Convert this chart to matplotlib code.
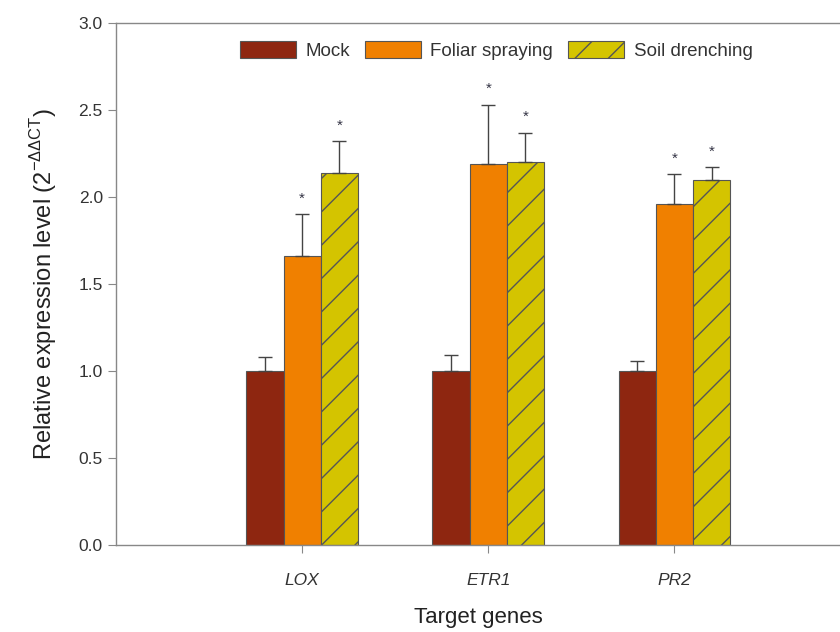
import matplotlib
matplotlib.use("Agg")
import matplotlib.pyplot as plt
import numpy as np

plt.rcParams['font.family'] = ['Liberation Sans', 'DejaVu Sans']
plt.rcParams['hatch.linewidth'] = 1.0
plt.rcParams['hatch.color'] = '#33331a'
plt.rcParams['mathtext.fontset'] = 'custom'
plt.rcParams['mathtext.rm'] = 'Liberation Sans'

genes = ["LOX", "ETR1", "PR2"]
series = ["Mock", "Foliar spraying", "Soil drenching"]
mock = [1.00, 1.00, 1.00]
mock_err = [0.08, 0.09, 0.06]
foliar = [1.66, 2.19, 1.96]
foliar_err = [0.24, 0.34, 0.17]
soil = [2.14, 2.20, 2.10]
soil_err = [0.18, 0.17, 0.07]
foliar_sig = ["*", "*", "*"]
soil_sig = ["*", "*", "*"]

colors = ["#8e2610", "#f08000", "#d4c400"]
hatches = [None, None, "/"]

fig = plt.figure(figsize=(8.4, 6.32), dpi=100)
ax = fig.add_axes([116/840, 87/632, 1 - 116/840, (545-23)/632])

x = np.arange(1, len(genes) + 1)
w = 0.2
data = [(mock, mock_err, None), (foliar, foliar_err, foliar_sig), (soil, soil_err, soil_sig)]
for i, (vals, errs, sig) in enumerate(data):
    pos = x + (i - 1) * w
    ax.bar(pos, vals, w, color=colors[i], edgecolor='#555555', linewidth=0.8,
           hatch=hatches[i], label=series[i], zorder=2)
    ax.errorbar(pos, vals, yerr=[np.zeros(len(vals)), errs], fmt='none',
                ecolor='#444444', elinewidth=1.0, capsize=4.8, capthick=1.0, zorder=3)
    if sig is not None:
        for p, v, e, s in zip(pos, vals, errs, sig):
            ax.text(p, v + e + 0.05, s, ha='center', va='bottom', fontsize=11, color='#333344')

ax.set_xlim(0, 3.89)
ax.set_ylim(0, 3.0)
ax.set_yticks(np.arange(0, 3.01, 0.5))
ax.set_yticklabels([f"{t:.1f}" for t in np.arange(0, 3.01, 0.5)])
ax.set_xticks(x)
ax.set_xticklabels(genes, style='italic', fontsize=13.5)
for sp in ['left', 'bottom', 'top']:
    ax.spines[sp].set_color('#888888')
    ax.spines[sp].set_linewidth(1.0)
ax.spines['right'].set_visible(False)
ax.tick_params(axis='both', direction='out', length=6, color='#888888',
               labelsize=12.5, labelcolor='#333333')
ax.tick_params(axis='x', pad=14)
ax.set_xlabel("Target genes", fontsize=16, color='#222222', labelpad=14)
ax.set_ylabel(r"Relative expression level (2$^{\mathregular{-\Delta\Delta CT}}$)", fontsize=17,
              color='#222222', labelpad=14)

ax.legend(loc='center', bbox_to_anchor=(0.525, 0.948), ncol=3,
          frameon=False, fontsize=13.5, handlelength=3.0, handleheight=1.0, columnspacing=0.8,
          handletextpad=0.5, labelcolor='#333333')

fig.savefig("out.png", dpi=100)
